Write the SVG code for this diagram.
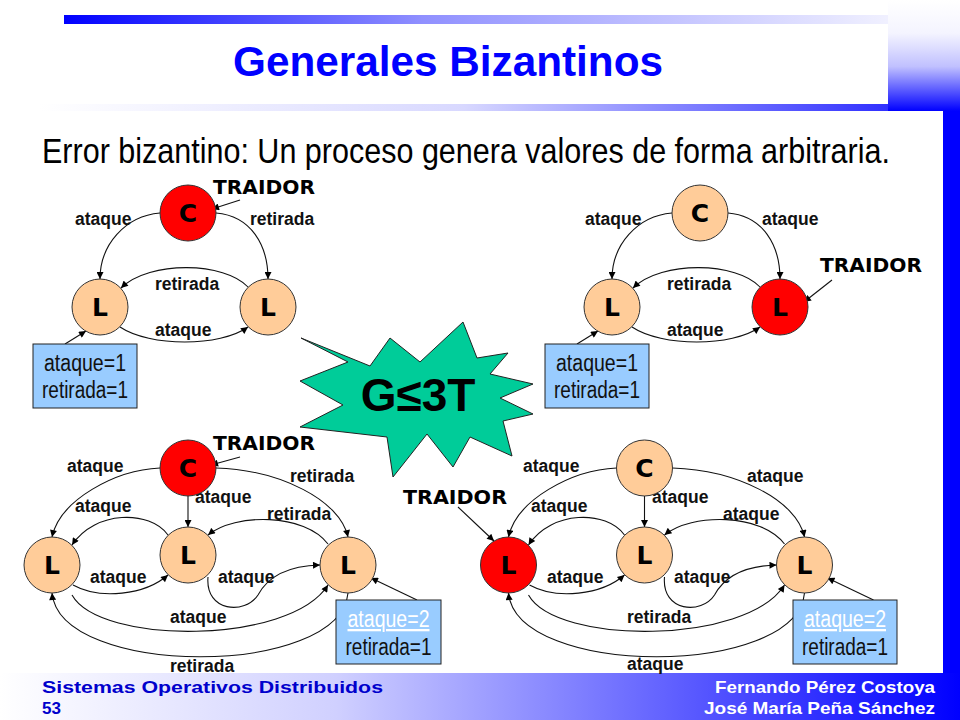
<svg xmlns="http://www.w3.org/2000/svg" width="960" height="720" viewBox="0 0 960 720">
<defs>
<linearGradient id="gTop" x1="0" y1="0" x2="1" y2="0"><stop offset="0" stop-color="#0000ff"/><stop offset="0.4" stop-color="#9090ff"/><stop offset="1" stop-color="#ffffff"/></linearGradient>
<linearGradient id="gThin" x1="0" y1="0" x2="1" y2="0"><stop offset="0" stop-color="#ffffff"/><stop offset="0.5" stop-color="#d8d8ff"/><stop offset="1" stop-color="#3030ff"/></linearGradient>
<linearGradient id="gBlock" x1="0" y1="0" x2="0" y2="1"><stop offset="0" stop-color="#ffffff"/><stop offset="0.3" stop-color="#f4f4ff"/><stop offset="0.6" stop-color="#c0c0ff"/><stop offset="1" stop-color="#0000ff"/></linearGradient>
<linearGradient id="gFoot" x1="0" y1="0" x2="1" y2="0"><stop offset="0" stop-color="#ffffff"/><stop offset="0.35" stop-color="#d0d0ff"/><stop offset="0.75" stop-color="#5050ff"/><stop offset="1" stop-color="#0000ff"/></linearGradient>
<marker id="ah" viewBox="0 0 10 10" refX="10" refY="5" markerWidth="9" markerHeight="7" markerUnits="userSpaceOnUse" orient="auto"><path d="M0,0 L10,5 L0,10 z" fill="#000"/></marker>
</defs>
<style>
.edge{fill:none;stroke:#111;stroke-width:1.1;marker-end:url(#ah)}
.lbl{font-family:"Liberation Sans",Arial,sans-serif;font-weight:bold;font-size:17.5px;fill:#111}
.trd{font-family:"DejaVu Sans","Liberation Sans",sans-serif;font-weight:bold;font-size:19.5px;fill:#000}
.nd{stroke:#333;stroke-width:1}
.red{fill:#ff0000}
.peach{fill:#ffcc99}
.let{font-family:"DejaVu Sans","Liberation Sans",sans-serif;font-weight:bold;font-size:25px;fill:#000;text-anchor:middle}
.box{fill:#99ccff;stroke:#222;stroke-width:1}
.bt{font-family:"Liberation Sans",Arial,sans-serif;font-size:23px;fill:#111;text-anchor:middle}
.bw{fill:#ffffff;text-decoration:underline}
.ft{font-family:"Liberation Sans",Arial,sans-serif;font-weight:bold;font-size:17px}
</style>
<rect width="960" height="720" fill="#ffffff"/>
<g id="header">
<rect x="64" y="15" width="896" height="9" fill="url(#gTop)"/>
<rect x="888" y="0" width="72" height="111" fill="url(#gBlock)"/>
<rect x="40" y="104" width="848" height="7" fill="url(#gThin)"/>
<rect x="943" y="111" width="17" height="562" fill="#0000ff"/>
<text x="233" y="76" font-family="'Liberation Sans',Arial,sans-serif" font-weight="bold" font-size="42" fill="#0000ff" textLength="430" lengthAdjust="spacingAndGlyphs">Generales Bizantinos</text>
<text transform="translate(42,163) scale(0.872,1)" x="0" y="0" font-family="'Liberation Sans',Arial,sans-serif" font-size="35" fill="#000">Error bizantino: Un proceso genera valores de forma arbitraria.</text>
</g>
<g id="footer">
<rect x="0" y="673" width="960" height="47" fill="url(#gFoot)"/>
<text class="ft" x="42" y="693" fill="#0000cc" textLength="341" lengthAdjust="spacingAndGlyphs">Sistemas Operativos Distribuidos</text>
<text class="ft" x="42" y="714" fill="#0000cc">53</text>
<text class="ft" x="715" y="693" fill="#ffffff" textLength="220" lengthAdjust="spacingAndGlyphs">Fernando Pérez Costoya</text>
<text class="ft" x="704" y="714" fill="#ffffff" textLength="231" lengthAdjust="spacingAndGlyphs">José María Peña Sánchez</text>
</g>
<g id="connectors">
<g id="tl-edges">
<path class="edge" d="M160,213 C125,216 100,245 100,279"/>
<path class="edge" d="M216,213 C251,216 268,245 268,279"/>
<path class="edge" d="M248,287 C225,262 150,260 121,288"/>
<path class="edge" d="M120,327 C150,347 220,347 248,327"/>
<path class="edge" d="M240,200 L212,209"/>
<path class="edge" d="M65,344 L86,331"/>
</g>
<g id="tr-edges" transform="translate(512,0)">
<path class="edge" d="M160,213 C125,216 100,245 100,279"/>
<path class="edge" d="M216,213 C251,216 268,245 268,279"/>
<path class="edge" d="M248,287 C225,262 150,260 121,288"/>
<path class="edge" d="M120,327 C150,347 220,347 248,327"/>
<path class="edge" d="M320,280 L292,302"/>
<path class="edge" d="M65,344 L86,331"/>
</g>
<g id="bl-edges">
<path class="edge" d="M160,468 C115,470 60,500 52,537"/>
<path class="edge" d="M188,496 L188,527"/>
<path class="edge" d="M216,468 C280,470 340,500 348,537"/>
<path class="edge" d="M168,535 C150,510 95,510 72,545"/>
<path class="edge" d="M328,544 C305,513 235,513 208,535"/>
<path class="edge" d="M73,585 C100,600 145,595 168,575"/>
<path class="edge" d="M208,577 C205,612 245,615 258,595 C265,582 280,566 320,565"/>
<path class="edge" d="M72,595 C100,645 290,645 328,585"/>
<path class="edge" d="M348,593 C340,678 60,678 52,593"/>
<path class="edge" d="M240,457 L211,465"/>
<path class="edge" d="M417,600 L371,578"/>
</g>
<g id="br-edges" transform="translate(456.5,0)">
<path class="edge" d="M160,468 C115,470 60,500 52,537"/>
<path class="edge" d="M188,496 L188,527"/>
<path class="edge" d="M216,468 C280,470 340,500 348,537"/>
<path class="edge" d="M168,535 C150,510 95,510 72,545"/>
<path class="edge" d="M328,544 C305,513 235,513 208,535"/>
<path class="edge" d="M73,585 C100,600 145,595 168,575"/>
<path class="edge" d="M208,577 C205,612 245,615 258,595 C265,582 280,566 320,565"/>
<path class="edge" d="M72,595 C100,645 290,645 328,585"/>
<path class="edge" d="M348,593 C340,678 60,678 52,593"/>
<path class="edge" d="M1.5,507 L37.5,541"/>
<path class="edge" d="M417,600 L371,578"/>
</g>
<g id="edge-labels">
<text class="lbl" x="75" y="225">ataque</text>
<text class="lbl" x="250" y="225">retirada</text>
<text class="lbl" x="155" y="290">retirada</text>
<text class="lbl" x="155" y="336">ataque</text>
<text class="lbl" x="585" y="225">ataque</text>
<text class="lbl" x="762" y="225">ataque</text>
<text class="lbl" x="667" y="290">retirada</text>
<text class="lbl" x="667" y="336">ataque</text>
<text class="lbl" x="67" y="472">ataque</text>
<text class="lbl" x="290" y="482">retirada</text>
<text class="lbl" x="195" y="503">ataque</text>
<text class="lbl" x="75" y="512">ataque</text>
<text class="lbl" x="267" y="520">retirada</text>
<text class="lbl" x="90" y="583">ataque</text>
<text class="lbl" x="218" y="583">ataque</text>
<text class="lbl" x="170" y="623">ataque</text>
<text class="lbl" x="170" y="672">retirada</text>
<text class="lbl" x="523" y="472">ataque</text>
<text class="lbl" x="747" y="482">ataque</text>
<text class="lbl" x="652" y="503">ataque</text>
<text class="lbl" x="531" y="512">ataque</text>
<text class="lbl" x="723" y="520">ataque</text>
<text class="lbl" x="547" y="583">ataque</text>
<text class="lbl" x="674" y="583">ataque</text>
<text class="lbl" x="627" y="623">retirada</text>
<text class="lbl" x="627" y="670">ataque</text>
</g>
</g>
<g id="traidor-labels">
<text class="trd" x="213" y="194" textLength="102" lengthAdjust="spacingAndGlyphs">TRAIDOR</text>
<text class="trd" x="820" y="272" textLength="102" lengthAdjust="spacingAndGlyphs">TRAIDOR</text>
<text class="trd" x="213" y="450" textLength="102" lengthAdjust="spacingAndGlyphs">TRAIDOR</text>
<text class="trd" x="403" y="504" textLength="104" lengthAdjust="spacingAndGlyphs">TRAIDOR</text>
</g>
<g id="tl-c"><circle class="nd red" cx="188" cy="213" r="28"/><text class="let" x="188" y="222">C</text></g>
<g id="tl-l1"><circle class="nd peach" cx="100" cy="307" r="28"/><text class="let" x="100" y="316">L</text></g>
<g id="tl-l2"><circle class="nd peach" cx="268" cy="307" r="28"/><text class="let" x="268" y="316">L</text></g>
<g id="tl-box"><rect class="box" x="33" y="344" width="104" height="64"/><text class="bt" x="85" y="371" textLength="82" lengthAdjust="spacingAndGlyphs">ataque=1</text><text class="bt" x="85" y="398" textLength="86" lengthAdjust="spacingAndGlyphs">retirada=1</text></g>
<g id="tr-c"><circle class="nd peach" cx="700" cy="213" r="28"/><text class="let" x="700" y="222">C</text></g>
<g id="tr-l1"><circle class="nd peach" cx="612" cy="307" r="28"/><text class="let" x="612" y="316">L</text></g>
<g id="tr-l2"><circle class="nd red" cx="780" cy="307" r="28"/><text class="let" x="780" y="316">L</text></g>
<g id="tr-box"><rect class="box" x="545" y="344" width="104" height="64"/><text class="bt" x="597" y="371" textLength="82" lengthAdjust="spacingAndGlyphs">ataque=1</text><text class="bt" x="597" y="398" textLength="86" lengthAdjust="spacingAndGlyphs">retirada=1</text></g>
<g id="star"><polygon points="301,338 370,366 390,338 420,362 463,322 477,358 508,353 490,374 533,384 500,398 533,414 503,421 512,456 470,437 453,467 427,434 393,477 387,437 300,427 343,405 300,381 348,362" fill="#00cc99" stroke="#222" stroke-width="1"/><text x="418" y="411" font-family="'Liberation Sans',Arial,sans-serif" font-weight="bold" font-size="46" fill="#000" text-anchor="middle">G≤3T</text></g>
<g id="bl-c"><circle class="nd red" cx="188" cy="468" r="28"/><text class="let" x="188" y="477">C</text></g>
<g id="bl-l1"><circle class="nd peach" cx="52" cy="565" r="28"/><text class="let" x="52" y="574">L</text></g>
<g id="bl-l2"><circle class="nd peach" cx="188" cy="555" r="28"/><text class="let" x="188" y="564">L</text></g>
<g id="bl-l3"><circle class="nd peach" cx="348" cy="565" r="28"/><text class="let" x="348" y="574">L</text></g>
<g id="bl-box"><rect class="box" x="336" y="600" width="105" height="64"/><text class="bt bw" x="388.5" y="627" textLength="82" lengthAdjust="spacingAndGlyphs">ataque=2</text><text class="bt" x="388.5" y="655" textLength="86" lengthAdjust="spacingAndGlyphs">retirada=1</text></g>
<g id="br-c"><circle class="nd peach" cx="644.5" cy="468" r="28"/><text class="let" x="644.5" y="477">C</text></g>
<g id="br-l1"><circle class="nd red" cx="508.5" cy="565" r="28"/><text class="let" x="508.5" y="574">L</text></g>
<g id="br-l2"><circle class="nd peach" cx="644.5" cy="555" r="28"/><text class="let" x="644.5" y="564">L</text></g>
<g id="br-l3"><circle class="nd peach" cx="804.5" cy="565" r="28"/><text class="let" x="804.5" y="574">L</text></g>
<g id="br-box"><rect class="box" x="793" y="600" width="104" height="64"/><text class="bt bw" x="845" y="627" textLength="82" lengthAdjust="spacingAndGlyphs">ataque=2</text><text class="bt" x="845" y="655" textLength="86" lengthAdjust="spacingAndGlyphs">retirada=1</text></g>
</svg>
